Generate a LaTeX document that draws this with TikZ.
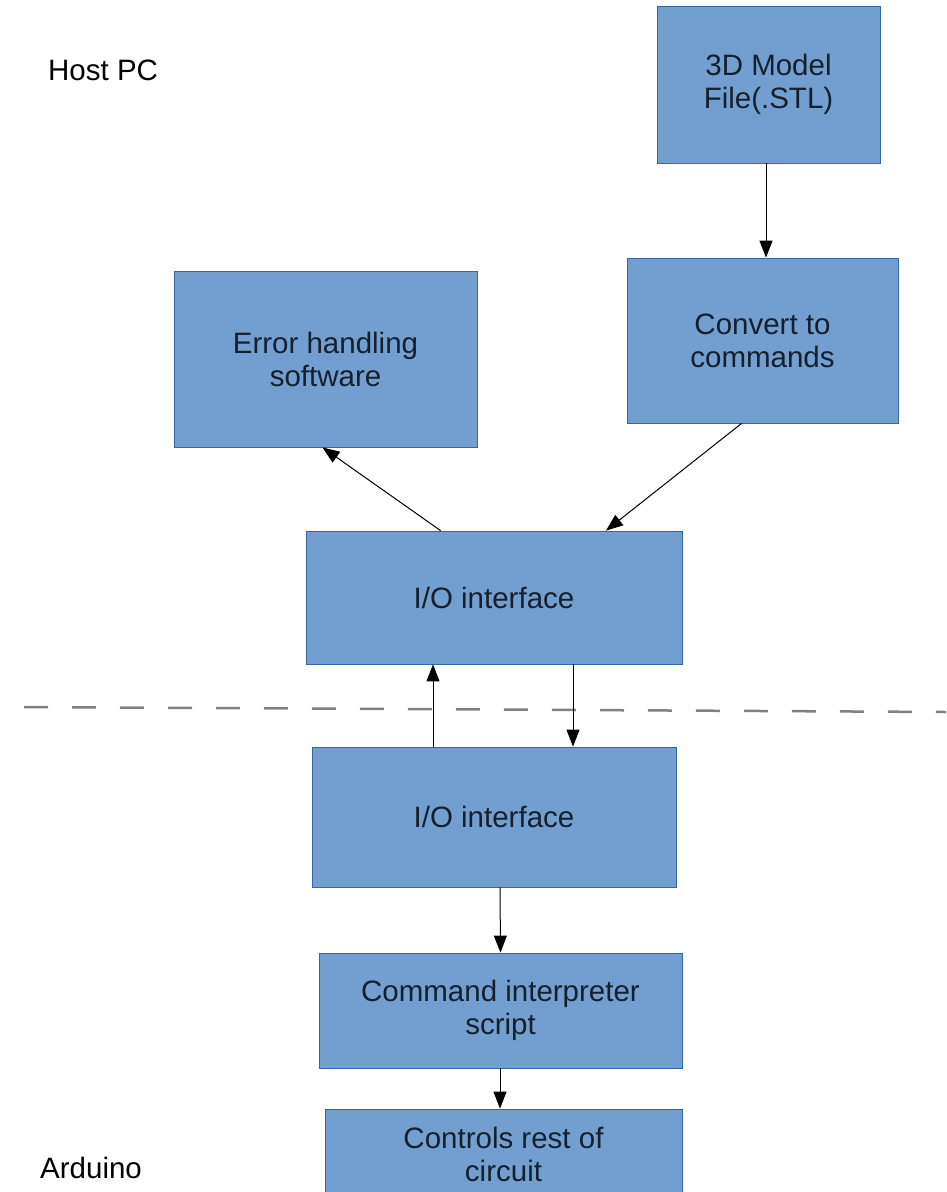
\documentclass[tikz,border=0pt]{standalone}
\usepackage{fontspec}
\setmainfont{Liberation Sans}
\usetikzlibrary{arrows.meta}

\definecolor{boxfill}{HTML}{729FCF}
\definecolor{boxline}{HTML}{3465A4}
\definecolor{boxtext}{HTML}{14202E}
\definecolor{sepgray}{HTML}{808080}

\begin{document}
\begin{tikzpicture}[x=1pt,y=-1pt,
    block/.style={draw=boxline,fill=boxfill,line width=0.8pt,inner sep=0pt,
        text=boxtext,align=center,font=\fontsize{29.5}{33}\selectfont},
    flow/.style={line width=1pt,-{Triangle[length=17pt,width=13pt]}},
    side/.style={anchor=west,inner sep=0pt,font=\fontsize{29.5}{33}\selectfont}]
    \useasboundingbox (0,0) rectangle (946,1192);
    \clip (0,0) rectangle (946,1192);

    % Host PC side
    \node[side] (hostlbl) at (48,70) {Host PC};
    \node[block,minimum width=223pt,minimum height=157pt] (model) at (768.5,84.5) {3D Model\\File(.STL)};
    \node[block,minimum width=271pt,minimum height=165pt] (convert) at (762.5,340.5) {Convert to\\commands};
    \node[block,minimum width=303pt,minimum height=176pt] (errsw) at (325.5,359) {Error handling\\software};
    \node[block,minimum width=376pt,minimum height=133pt] (pcio) at (494,597.5) {I/O interface};

    % Separator
    \coordinate (sepL) at (24,707);
    \coordinate (sepR) at (946,712);
    \draw[sepgray,line width=2.5pt,dash pattern=on 24pt off 24pt] (sepL) -- (sepR);

    % Arduino side
    \node[block,minimum width=364pt,minimum height=140pt] (ardio) at (494,817) {I/O interface};
    \node[block,minimum width=363pt,minimum height=115pt] (interp) at (500.5,1010.5) {Command interpreter\\script};
    \node[block,minimum width=357pt,minimum height=90pt] (ctrl) at (503.5,1154) {Controls rest of\\circuit};
    \node[side] (arduinolbl) at (40,1168) {Arduino};

    % Arrows showing data flow
    \draw[flow] ([xshift=-2.5pt]model.south) -- ([xshift=3.5pt]convert.north);
    \draw[flow] ([xshift=115pt]convert.south west) -- ([xshift=112pt]pcio.north);
    \draw[flow] ([xshift=135pt]pcio.north west) -- ([xshift=-3pt]errsw.south);
    \draw[flow] ([xshift=-61pt]ardio.north) -- ([xshift=-61pt]pcio.south);
    \draw[flow] ([xshift=79pt]pcio.south) -- ([xshift=79pt]ardio.north);
    \draw[flow] ([xshift=6pt]ardio.south) -- (interp.north);
    \draw[flow] ([xshift=-0.5pt]interp.south) -- ([xshift=-3.5pt]ctrl.north);
\end{tikzpicture}
\end{document}
